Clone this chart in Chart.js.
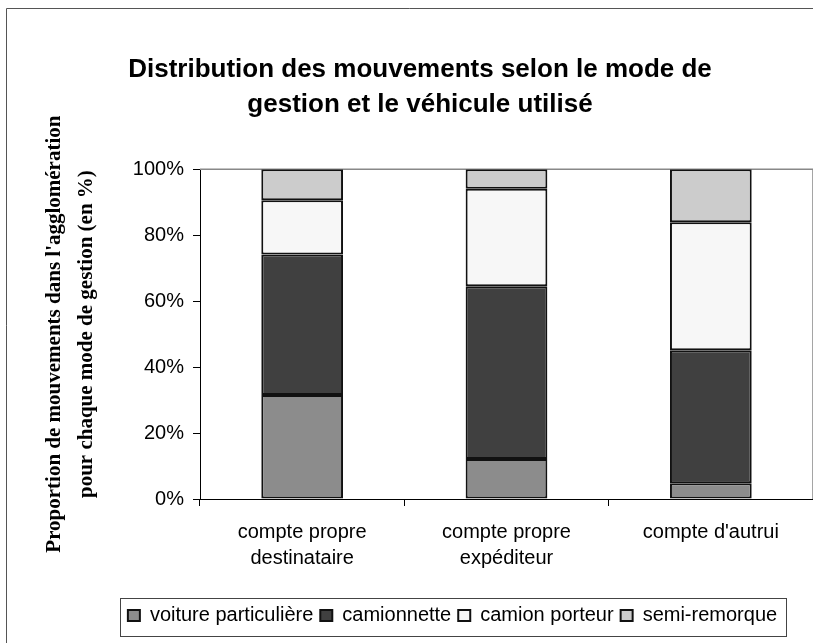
<!DOCTYPE html>
<html>
<head>
<meta charset="utf-8">
<script src="https://cdn.jsdelivr.net/npm/chart.js@4/dist/chart.umd.min.js"></script>
<style>
  html, body { margin: 0; padding: 0; background: #fff; }
  #wrap { width: 813px; height: 643px; }
</style>
</head>
<body>
<div id="wrap"><canvas id="mode_chart"></canvas></div>
<script>
const categories = [
  ["compte propre", "destinataire"],
  ["compte propre", "expéditeur"],
  "compte d'autrui"
];
const seriesNames = ["voiture particulière", "camionnette", "camion porteur", "semi-remorque"];
const voiture = [31.5, 12.1, 4.8];
const camionnette = [42.6, 52.4, 40.3];
const porteur = [16.5, 29.6, 38.8];
const semiRemorque = [9.4, 5.9, 16.1];
const yTicks = [0, 20, 40, 60, 80, 100];

const colors = ["#8c8c8c", "#404040", "#f7f7f7", "#cccccc"];
const sans = "'Liberation Sans', Arial, sans-serif";
const serif = "'Liberation Serif', 'Times New Roman', serif";

// frame around the whole chart, plot border, legend box
const framePlugin = {
  id: "frame",
  afterLayout(chart) {
    // shift title and legend centres like the original
    if (chart.titleBlock) chart.titleBlock.left = 27;
    if (chart.legend) chart.legend.left = 92;
  },
  beforeDraw(chart) {
    const ctx = chart.ctx;
    ctx.save();
    ctx.strokeStyle = "#555";
    ctx.lineWidth = 1;
    ctx.beginPath();
    ctx.moveTo(6.5, 643);
    ctx.lineTo(6.5, 8.5);
    ctx.lineTo(813, 8.5);
    ctx.stroke();
    ctx.restore();
  },
  beforeDatasetsDraw(chart) {
    const { ctx, chartArea } = chart;
    ctx.save();
    ctx.strokeStyle = "#888";
    ctx.lineWidth = 1.5;
    ctx.beginPath();
    ctx.moveTo(chartArea.left, chartArea.top);
    ctx.lineTo(chartArea.right, chartArea.top);
    ctx.lineTo(chartArea.right, chartArea.bottom);
    ctx.stroke();
    ctx.restore();
  },
  afterDraw(chart) {
    const boxes = chart.legend && chart.legend.legendHitBoxes;
    if (!boxes || !boxes.length) return;
    const ctx = chart.ctx;
    const first = boxes[0];
    const last = boxes[boxes.length - 1];
    const x0 = first.left - 8;
    const x1 = last.left + last.width + 9;
    const y0 = chart.legend.top - 0.5;
    const y1 = chart.legend.bottom + 0.5;
    ctx.save();
    ctx.strokeStyle = "#444";
    ctx.lineWidth = 1;
    ctx.strokeRect(Math.round(x0) + 0.5, Math.round(y0) + 0.5, Math.round(x1 - x0), Math.round(y1 - y0));
    ctx.restore();
  }
};

const ctx = document.getElementById("mode_chart").getContext("2d");

const datasets = [voiture, camionnette, porteur, semiRemorque].map((d, i) => ({
  label: seriesNames[i],
  data: d,
  backgroundColor: colors[i],
  borderColor: "#111",
  borderWidth: 2,
  borderSkipped: false,
  categoryPercentage: 0.4,
  barPercentage: 1
}));

new Chart(ctx, {
  type: "bar",
  data: { labels: categories, datasets: datasets },
  plugins: [framePlugin],
  options: {
    responsive: true,
    maintainAspectRatio: false,
    animation: false,
    layout: { padding: { left: 0, right: 0, top: 0, bottom: 7.5 } },
    plugins: {
      title: {
        display: true,
        text: ["Distribution des mouvements selon le mode de", "gestion et le véhicule utilisé"],
        color: "#000",
        font: { family: sans, size: 26, weight: "bold", lineHeight: 1.35 },
        padding: { top: 52, bottom: 47 }
      },
      legend: {
        position: "bottom",
        labels: {
          color: "#000",
          font: { family: sans, size: 20 },
          boxWidth: 12,
          boxHeight: 11,
          padding: 7
        }
      },
      tooltip: { enabled: false }
    },
    scales: {
      x: {
        stacked: true,
        grid: {
          offset: true,
          drawOnChartArea: false,
          drawTicks: true,
          tickLength: 7,
          tickColor: "#000"
        },
        border: { display: true, color: "#000", width: 1 },
        ticks: {
          color: "#000",
          font: { family: sans, size: 20, lineHeight: 1.33 },
          padding: 13,
          maxRotation: 0
        },
        afterFit(scale) { scale.height = 99.5; }
      },
      y: {
        stacked: true,
        min: 0,
        max: 100,
        afterBuildTicks(scale) { scale.ticks = yTicks.map(v => ({ value: v })); },
        grid: {
          color: "transparent",
          drawTicks: true,
          tickLength: 7,
          tickColor: "#000"
        },
        border: { display: true, color: "#000", width: 1 },
        ticks: {
          color: "#000",
          font: { family: sans, size: 20 },
          padding: 9,
          callback: (v) => v + "%"
        },
        title: {
          display: true,
          text: ["Proportion de mouvements dans l'agglomération", "pour chaque mode de gestion (en %)"],
          color: "#000",
          font: { family: serif, size: 21, weight: "bold", lineHeight: 1.55 },
          padding: { top: 38, bottom: 0 }
        },
        afterFit(scale) { scale.width = 200; }
      }
    }
  }
});
</script>
</body>
</html>
